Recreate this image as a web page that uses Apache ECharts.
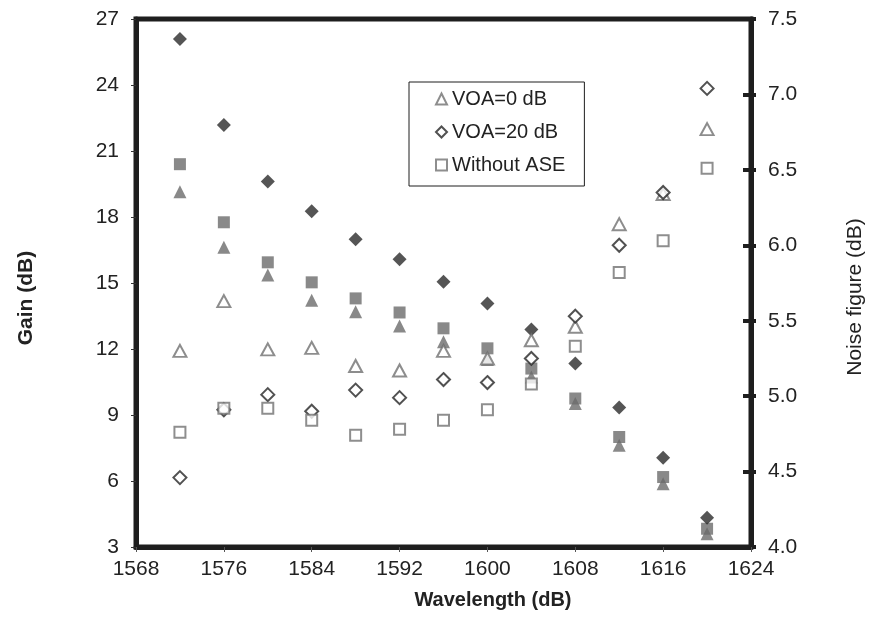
<!DOCTYPE html>
<html>
<head>
<meta charset="utf-8">
<script src="https://cdn.jsdelivr.net/npm/echarts@6/dist/echarts.min.js"></script>
<style>
  html, body { margin: 0; padding: 0; background: #fff; }
  #chart { width: 870px; height: 630px; }
</style>
</head>
<body>
<div id="chart"></div>
<script>
// wavelength (nm)
var wavelength = [1572, 1576, 1580, 1584, 1588, 1592, 1596, 1600, 1604, 1608, 1612, 1616, 1620];
// gain (dB), filled markers, left axis
var gainVoa0 = [19.15, 16.62, 15.36, 14.22, 13.69, 13.04, 12.33, 11.52, 10.73, 9.52, 7.62, 5.88, 3.6];
var gainVoa20 = [26.09, 22.18, 19.61, 18.26, 16.99, 16.08, 15.06, 14.07, 12.89, 11.34, 9.34, 7.06, 4.33];
var gainNoAse = [20.4, 17.76, 15.94, 15.03, 14.3, 13.66, 12.94, 12.03, 11.11, 9.75, 8.0, 6.18, 3.83];
// noise figure (dB), hollow markers, right axis
var nfVoa0 = [5.30, 5.63, 5.31, 5.32, 5.20, 5.17, 5.30, 5.25, 5.37, 5.46, 6.14, 6.34, 6.77];
var nfVoa20 = [4.46, 4.91, 5.01, 4.90, 5.04, 4.99, 5.11, 5.09, 5.25, 5.53, 6.00, 6.35, 7.04];
var nfNoAse = [4.76, 4.92, 4.92, 4.84, 4.74, 4.78, 4.84, 4.91, 5.08, 5.33, 5.82, 6.03, 6.51];
var legendNames = ["VOA=0 dB", "VOA=20 dB", "Without ASE"];

var FONT = "'Liberation Sans', Arial, sans-serif";
var INK = "#1e1e1e";

function pairs(ys) {
  var out = [];
  for (var i = 0; i < wavelength.length; i++) {
    out.push([wavelength[i], ys[i]]);
  }
  return out;
}

var myChart = echarts.init(document.getElementById("chart"));
myChart.setOption({
  animation: false,
  grid: {
    left: 136,
    right: 119,
    top: 19,
    bottom: 83,
    show: true,
    borderColor: INK,
    borderWidth: 5
  },
  legend: {
    orient: "vertical",
    left: 409,
    top: 82,
    data: legendNames,
    itemWidth: 11,
    itemHeight: 11,
    itemGap: 13,
    padding: [7, 19, 11, 26],
    borderColor: INK,
    borderWidth: 1,
    backgroundColor: "#fff",
    selectedMode: false,
    textStyle: { fontFamily: FONT, fontSize: 20, color: "#222" }
  },
  xAxis: {
    type: "value",
    min: 1568,
    max: 1624,
    interval: 8,
    splitLine: { show: false },
    axisLine: { lineStyle: { color: INK, width: 5 } },
    axisTick: { length: 5, lineStyle: { color: "#555", width: 1 } },
    axisLabel: {
      margin: 12,
      fontFamily: FONT,
      fontSize: 21,
      color: "#222",
      formatter: function (v) { return String(v); }
    }
  },
  yAxis: [
    {
      type: "value",
      position: "left",
      min: 3,
      max: 27,
      interval: 3,
      splitLine: { show: false },
      axisLine: { show: true, lineStyle: { color: INK, width: 5 } },
      axisTick: { show: true, length: 5, lineStyle: { color: "#333", width: 1 } },
      axisLabel: { margin: 17, fontFamily: FONT, fontSize: 21, color: "#222" }
    },
    {
      type: "value",
      position: "right",
      min: 4,
      max: 7.5,
      interval: 0.5,
      splitLine: { show: false },
      axisLine: { show: true, lineStyle: { color: INK, width: 5 } },
      axisTick: { show: true, length: 5, lineStyle: { color: INK, width: 4 } },
      axisLabel: {
        margin: 17,
        fontFamily: FONT,
        fontSize: 21,
        color: "#222",
        formatter: function (v) { return v.toFixed(1); }
      }
    },
    {
      // inner half of the right axis ticks
      type: "value",
      position: "right",
      min: 4,
      max: 7.5,
      interval: 0.5,
      splitLine: { show: false },
      axisLine: { show: false },
      axisTick: { show: true, inside: true, length: 8, lineStyle: { color: INK, width: 4 } },
      axisLabel: { show: false }
    }
  ],
  graphic: [
    {
      type: "text",
      x: 26,
      y: 298,
      rotation: Math.PI / 2,
      style: { text: "Gain (dB)", fill: "#222", font: "bold 21px " + FONT, align: "center", verticalAlign: "middle" }
    },
    {
      type: "text",
      x: 855,
      y: 297,
      rotation: Math.PI / 2,
      style: { text: "Noise figure (dB)", fill: "#222", font: "21px " + FONT, align: "center", verticalAlign: "middle" }
    },
    {
      type: "text",
      x: 493,
      y: 600,
      style: { text: "Wavelength (dB)", fill: "#222", font: "bold 20px " + FONT, align: "center", verticalAlign: "middle" }
    }
  ],
  series: [
    {
      name: "Gain VOA=0 dB",
      type: "scatter",
      yAxisIndex: 0,
      symbol: "triangle",
      symbolSize: [13, 13],
      itemStyle: { color: "#6b6b6b" },
      data: pairs(gainVoa0)
    },
    {
      name: "Gain Without ASE",
      type: "scatter",
      yAxisIndex: 0,
      symbol: "rect",
      symbolSize: [12, 12],
      itemStyle: { color: "#6b6b6b" },
      data: pairs(gainNoAse)
    },
    {
      name: "Gain VOA=20 dB",
      type: "scatter",
      yAxisIndex: 0,
      symbol: "diamond",
      symbolSize: [14, 14],
      itemStyle: { color: "#2a2a2a" },
      data: pairs(gainVoa20)
    },
    {
      name: "VOA=0 dB",
      type: "scatter",
      yAxisIndex: 1,
      symbol: "triangle",
      symbolSize: [13, 12],
      itemStyle: { color: "#fff", borderColor: "#707070", borderWidth: 2 },
      data: pairs(nfVoa0)
    },
    {
      name: "VOA=20 dB",
      type: "scatter",
      yAxisIndex: 1,
      symbol: "diamond",
      symbolSize: [13, 13],
      itemStyle: { color: "#fff", borderColor: "#262626", borderWidth: 2 },
      data: pairs(nfVoa20)
    },
    {
      name: "Without ASE",
      type: "scatter",
      yAxisIndex: 1,
      symbol: "rect",
      symbolSize: [11, 11],
      itemStyle: { color: "#fff", borderColor: "#727272", borderWidth: 2 },
      data: pairs(nfNoAse)
    }
  ]
});
</script>
</body>
</html>
